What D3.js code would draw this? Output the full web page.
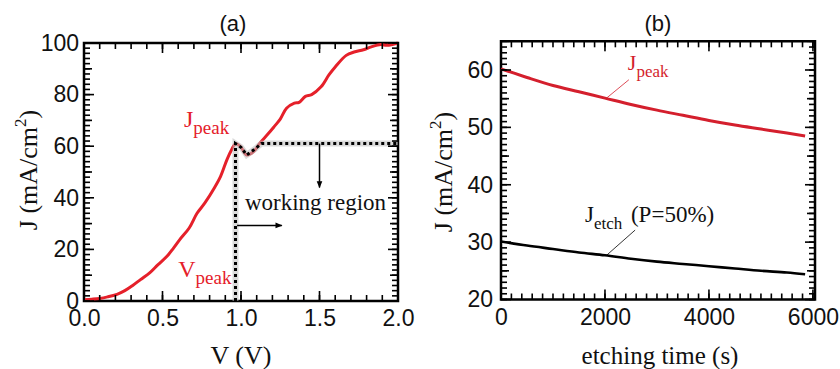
<!DOCTYPE html>
<html>
<head>
<meta charset="utf-8">
<script src="https://cdn.jsdelivr.net/npm/d3@7"></script>
<style>
  body { margin: 0; background: #fff; }
  .sans { font-family: "Liberation Sans", Arial, Helvetica, sans-serif; }
  .serif { font-family: "Liberation Serif", "Times New Roman", serif; }
</style>
</head>
<body>
<svg id="chart" width="840" height="369"></svg>
<script>
// panel (a): J-V curve
const voltage = [0.0,0.05,0.1,0.15,0.21,0.26,0.31,0.36,0.42,0.47,0.53,0.57,0.61,0.67,0.72,0.77,0.83,0.87,0.91,0.94,0.965,1.0,1.036,1.08,1.12,1.17,1.21,1.25,1.29,1.34,1.37,1.41,1.45,1.51,1.56,1.6,1.67,1.72,1.78,1.83,1.89,1.93,2.0];
const current = [0.5,0.7,1.0,1.6,2.6,4.0,6.0,8.3,11,14,17.4,20.5,23.8,28.3,34,38,43.8,48.3,54.7,58.6,61,59.6,56.6,57.9,61.2,64.6,67.5,70.5,74.7,76.7,77,79.3,80,83,87.6,90.7,95.2,96.5,97.4,98.5,99.4,99.1,100];
// dotted boundary of the working region
const boundV = [0.965,0.965,1.0,1.036,1.08,1.13,2.0];
const boundJ = [0,61,59.6,56.6,58.5,61,61];

// panel (b): decay with etching time
const etchTime = [0,500,1000,1500,2000,2500,3000,3500,4000,4500,5000,5500,5850];
const jPeak = [60.2,58.7,57.3,56.2,55.1,54.0,53.0,52.1,51.2,50.4,49.7,49.0,48.5];
const jEtch = [30.1,29.4,28.8,28.2,27.7,27.1,26.6,26.2,25.8,25.4,25.0,24.7,24.4];

const xTicksA = [0, 0.5, 1, 1.5, 2];
const yTicksA = [0, 20, 40, 60, 80, 100];
const xTicksB = [0, 2000, 4000, 6000];
const yTicksB = [20, 30, 40, 50, 60];

const svg = d3.select('#chart');
const red = '#e5202a';
const redB = '#d41f2d';

svg.append('defs').append('marker')
  .attr('id', 'arrow')
  .attr('viewBox', '0 0 10 10')
  .attr('refX', 9).attr('refY', 5)
  .attr('markerWidth', 9).attr('markerHeight', 7)
  .attr('markerUnits', 'userSpaceOnUse')
  .attr('orient', 'auto')
  .append('path')
  .attr('d', 'M0,1 L10,5 L0,9 Z')
  .attr('fill', '#000');

function frame(x, y, opts) {
  const [x0, x1] = x.range();
  const [y0, y1] = y.range();

  svg.append('path')
    .attr('d', `M${x0},${y1}H${x1}V${y0}H${x0}Z`)
    .attr('fill', 'none').attr('stroke', '#000').attr('stroke-width', 2.5);

  const g = svg.append('g');
  g.append('g').attr('transform', `translate(0,${y0})`)
    .call(d3.axisBottom(x).tickValues(opts.xMajor).tickSize(0).tickPadding(9).tickFormat(opts.xFmt));
  g.append('g').attr('transform', `translate(${x0},0)`)
    .call(d3.axisLeft(y).tickValues(opts.yMajor).tickSize(0).tickPadding(opts.yPad).tickFormat(d3.format('d')));
  g.selectAll('.domain').remove();
  g.selectAll('.tick line').remove();
  g.selectAll('.tick text').attr('font-size', 23).attr('fill', '#111')
    .attr('font-family', '"Liberation Sans", Arial, Helvetica, sans-serif');
}

// inward ticks on all four sides, as thin filled bars
function ticks(x, y, opts) {
  const [x0, x1] = x.range();
  const [y0, y1] = y.range();
  const minorX = d3.range(opts.xMinor[0], opts.xMinor[1] + 1e-9, opts.xMinor[2]);
  const minorY = d3.range(opts.yMinor[0], opts.yMinor[1] + 1e-9, opts.yMinor[2]);
  const midY = d3.range(opts.yMid[0], opts.yMid[1] + 1e-9, opts.yMid[2]);
  const xT = minorX.map(v => [v, 6]).concat(opts.xMajor.map(v => [v, 10]));
  const yT = minorY.map(v => [v, 6]).concat(midY.map(v => [v, 8])).concat(opts.yMajor.map(v => [v, 10]));
  const w = 1.6;

  const g = svg.append('g').attr('fill', '#000');
  g.selectAll('rect.xb').data(xT).enter().append('rect').attr('class', 'xb')
    .attr('x', t => x(t[0]) - w / 2).attr('y', t => y0 - t[1])
    .attr('width', w).attr('height', t => t[1]);
  g.selectAll('rect.xt').data(xT).enter().append('rect').attr('class', 'xt')
    .attr('x', t => x(t[0]) - w / 2).attr('y', y1)
    .attr('width', w).attr('height', t => t[1]);
  g.selectAll('rect.yl').data(yT).enter().append('rect').attr('class', 'yl')
    .attr('x', x0).attr('y', t => y(t[0]) - w / 2)
    .attr('width', t => t[1]).attr('height', w);
  g.selectAll('rect.yr').data(yT).enter().append('rect').attr('class', 'yr')
    .attr('x', t => x1 - t[1]).attr('y', t => y(t[0]) - w / 2)
    .attr('width', t => t[1]).attr('height', w);
}

function yLabel(cx, cy) {
  const t = svg.append('text').attr('class', 'serif')
    .attr('transform', `translate(${cx},${cy}) rotate(-90)`)
    .attr('text-anchor', 'middle').attr('font-size', 26).attr('fill', '#111');
  t.append('tspan').text('J (mA/cm');
  t.append('tspan').text('2').attr('font-size', 17).attr('dy', -11);
  t.append('tspan').text(')').attr('dy', 11);
}

function subLabel(x, y, main, sub, color, size, subSize) {
  const t = svg.append('text').attr('class', 'serif')
    .attr('x', x).attr('y', y).attr('fill', color).attr('font-size', size);
  t.append('tspan').text(main);
  t.append('tspan').text(sub).attr('font-size', subSize).attr('dy', 7);
  return t;
}

// ---------- panel (a) ----------
const xA = d3.scaleLinear().domain([0, 2]).range([84, 398]);
const yA = d3.scaleLinear().domain([0, 100]).range([301, 43]);
const optsA = {
  xMinor: [0, 2, 0.1], xMajor: xTicksA, xFmt: d3.format('.1f'),
  yMinor: [0, 100, 2], yMid: [10, 90, 20], yMajor: yTicksA, yPad: 5
};

// ---------- panel (b) ----------
const xB = d3.scaleLinear().domain([0, 6040]).range([501, 815]);
const yB = d3.scaleLinear().domain([20, 65]).range([299.5, 41.3]);
const optsB = {
  xMinor: [0, 6000, 200], xMajor: xTicksB, xFmt: d3.format('d'),
  yMinor: [20, 65, 1], yMid: [25, 65, 10], yMajor: yTicksB, yPad: 8
};

frame(xA, yA, optsA);
frame(xB, yB, optsB);

const lineA = d3.line().x(d => xA(d[0])).y(d => yA(d[1])).curve(d3.curveCatmullRom);
svg.append('path')
  .datum(d3.zip(voltage, current))
  .attr('d', lineA)
  .attr('fill', 'none').attr('stroke', red).attr('stroke-width', 3);

const boundLine = d3.line().x(d => xA(d[0])).y(d => yA(d[1]));
const bound = d3.zip(boundV, boundJ);
svg.append('path').datum(bound).attr('d', boundLine)
  .attr('fill', 'none').attr('stroke', '#bbb').attr('stroke-opacity', 0.55).attr('stroke-width', 6);
svg.append('path').datum(bound).attr('d', boundLine)
  .attr('fill', 'none').attr('stroke', '#000').attr('stroke-width', 3)
  .attr('stroke-dasharray', '3,3');

svg.append('line')
  .attr('x1', xA(1.5)).attr('y1', yA(61)).attr('x2', xA(1.5)).attr('y2', yA(44))
  .attr('stroke', '#000').attr('stroke-width', 1.5).attr('marker-end', 'url(#arrow)');
svg.append('line')
  .attr('x1', xA(0.975)).attr('y1', yA(29.3)).attr('x2', xA(1.26)).attr('y2', yA(29.3))
  .attr('stroke', '#000').attr('stroke-width', 1.5).attr('marker-end', 'url(#arrow)');

svg.append('text').attr('class', 'serif')
  .attr('x', xA(1.025)).attr('y', yA(35.3))
  .attr('font-size', 23).attr('fill', '#111').text('working region');

subLabel(xA(0.637), yA(67.4), 'J', 'peak', red, 24, 19);
subLabel(xA(0.6), yA(9.3), 'V', 'peak', red, 24, 19);

svg.append('text').attr('class', 'sans')
  .attr('x', 233).attr('y', 31).attr('text-anchor', 'middle')
  .attr('font-size', 22).attr('fill', '#111').text('(a)');

svg.append('text').attr('class', 'serif')
  .attr('x', 241).attr('y', 364).attr('text-anchor', 'middle')
  .attr('font-size', 26).attr('fill', '#111').text('V (V)');
yLabel(37, 170);

const lineB = d3.line().x(d => xB(d[0])).y(d => yB(d[1])).curve(d3.curveMonotoneX);
svg.append('path').datum(d3.zip(etchTime, jPeak)).attr('d', lineB)
  .attr('fill', 'none').attr('stroke', redB).attr('stroke-width', 3);
svg.append('path').datum(d3.zip(etchTime, jEtch)).attr('d', lineB)
  .attr('fill', 'none').attr('stroke', '#000').attr('stroke-width', 2.6);

// leader lines
svg.append('line')
  .attr('x1', xB(2460)).attr('y1', yB(58.3)).attr('x2', xB(2030)).attr('y2', yB(55.1))
  .attr('stroke', redB).attr('stroke-width', 0.8);
svg.append('line')
  .attr('x1', xB(2580)).attr('y1', yB(32.1)).attr('x2', xB(2030)).attr('y2', yB(27.7))
  .attr('stroke', '#000').attr('stroke-width', 0.8);

subLabel(xB(2440), yB(60.0), 'J', 'peak', redB, 22, 17);
subLabel(xB(1615), yB(33.5), 'J', 'etch', '#111', 23, 17);
svg.append('text').attr('class', 'serif')
  .attr('x', xB(2500)).attr('y', yB(33.5))
  .attr('font-size', 23).attr('fill', '#111').text('(P=50%)');

svg.append('text').attr('class', 'sans')
  .attr('x', 658).attr('y', 31).attr('text-anchor', 'middle')
  .attr('font-size', 22).attr('fill', '#111').text('(b)');

svg.append('text').attr('class', 'serif')
  .attr('x', 660).attr('y', 364).attr('text-anchor', 'middle')
  .attr('font-size', 25).attr('fill', '#111').text('etching time (s)');
yLabel(452, 172);

ticks(xA, yA, optsA);
ticks(xB, yB, optsB);
</script>
</body>
</html>
